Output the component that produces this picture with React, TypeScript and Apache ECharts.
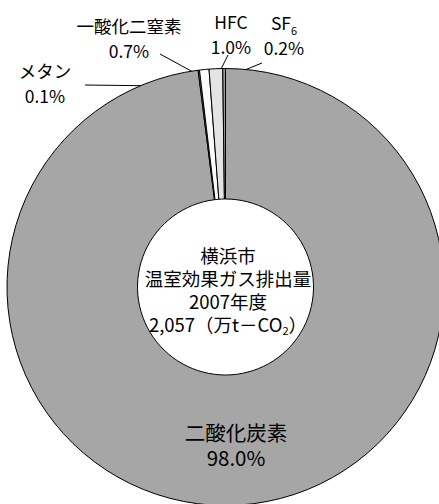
import { useEffect, useRef } from 'react';
import * as echarts from 'echarts';

// Greenhouse gas shares (%) — order follows the clockwise slice order from 12 o'clock
const gasNames = ['二酸化炭素', 'メタン', '一酸化二窒素', 'HFC', 'SF6'];
const gasShares = [98.0, 0.1, 0.7, 1.0, 0.2];
const gasColors = ['#a6a6a6', '#8c8c8c', '#fafafa', '#e4e4e4', '#9a9a9a'];

// Caption shown inside the donut hole
const centerCity = '横浜市';
const centerTitle = '温室効果ガス排出量';
const centerYear = 2007;
const centerYearSuffix = '年度';
const totalEmission = 2057;
const totalUnit = '万t－CO2';

// Geometry of the donut
const CX = 225.5;
const CY = 287;
const R_OUT = 218.5;
const R_IN = 88;

// Where each slice label sits, its font size, and where its leader line meets the label
const labelPlacement: { x: number; y: number; size: number; lineX?: number; lineY?: number; depth?: number }[] = [
  { x: 236, y: 444.5, size: 20.5 },
  { x: 45, y: 82.5, size: 17.5, lineX: 85, lineY: 85, depth: 0.925 },
  { x: 129, y: 37.5, size: 17.5, lineX: 160, lineY: 54, depth: 0.958 },
  { x: 231, y: 33.5, size: 17.5, lineX: 228, lineY: 55, depth: 0.955 },
  { x: 284, y: 35, size: 17.5, lineX: 262, lineY: 63, depth: 0.955 },
];

const LABEL_FONT = "'Noto Sans CJK JP', 'Noto Sans', sans-serif";
const CENTER_FONT = "'Noto Sans CJK JP', 'Noto Sans', sans-serif";

// Chemical formulas: digits following a capital letter become subscripts
const withSubscripts = (s: string) => s.replace(/([A-Z])(\d)/g, '$1{sub|$2}');

export default function App() {
  const ref = useRef<HTMLDivElement>(null);

  useEffect(() => {
    if (!ref.current) return;
    const chart = echarts.init(ref.current, undefined, { renderer: 'svg' });

    const data = gasNames.map((name, i) => ({
      name,
      value: gasShares[i],
      itemStyle: { color: gasColors[i] },
      label: { fontSize: labelPlacement[i].size },
      labelLine: { show: i !== 0 },
    }));

    const centerText = [
      centerCity,
      centerTitle,
      `${centerYear}${centerYearSuffix}`,
      `${totalEmission.toLocaleString('en-US')}（${withSubscripts(totalUnit)}）`,
    ].join('\n');

    chart.setOption({
      animation: false,
      backgroundColor: '#ffffff',
      series: [
        {
          type: 'pie',
          center: [CX, CY],
          radius: [R_IN, R_OUT],
          startAngle: 90,
          clockwise: true,
          avoidLabelOverlap: false,
          silent: true,
          emphasis: { disabled: true },
          itemStyle: { borderColor: '#000000', borderWidth: 1 },
          label: {
            show: true,
            position: 'outside',
            color: '#000000',
            fontFamily: LABEL_FONT,
            fontSize: 17.5,
            lineHeight: 25,
            align: 'center',
            formatter: (p: any) => `${withSubscripts(p.name)}\n${Number(p.value).toFixed(1)}%`,
            rich: {
              sub: {
                fontFamily: LABEL_FONT,
                fontSize: 11,
                color: '#000000',
                verticalAlign: 'bottom',
              },
            },
          },
          labelLine: {
            show: true,
            showAbove: true,
            length: 10,
            length2: 10,
            lineStyle: { color: '#000000', width: 1 },
          },
          labelLayout: (params: any) => {
            const p = labelPlacement[params.dataIndex];
            const out: any = { x: p.x, y: p.y, align: 'center', verticalAlign: 'middle' };
            const pts = params.labelLinePoints;
            if (p.lineX != null && pts && pts.length) {
              const sx = pts[0][0];
              const sy = pts[0][1];
              const k = p.depth ?? 1;
              const a = [CX + (sx - CX) * k, CY + (sy - CY) * k];
              const b = [p.lineX, p.lineY];
              out.labelLinePoints = [a, b, b];
            }
            return out;
          },
          data,
        },
      ],
      graphic: [
        {
          type: 'text',
          x: 228,
          y: 289,
          silent: true,
          style: {
            text: centerText,
            fill: '#000000',
            fontFamily: CENTER_FONT,
            fontSize: 18.5,
            lineHeight: 23,
            align: 'center',
            verticalAlign: 'middle',
            rich: {
              sub: {
                fontFamily: CENTER_FONT,
                fontSize: 11,
                fill: '#000000',
                verticalAlign: 'bottom',
                lineHeight: 23,
              },
            },
          },
        },
      ],
    });

    return () => chart.dispose();
  }, []);

  return (
    <div
      ref={ref}
      style={{ position: 'fixed', left: 0, top: 0, width: 439, height: 504, background: '#ffffff' }}
    />
  );
}
